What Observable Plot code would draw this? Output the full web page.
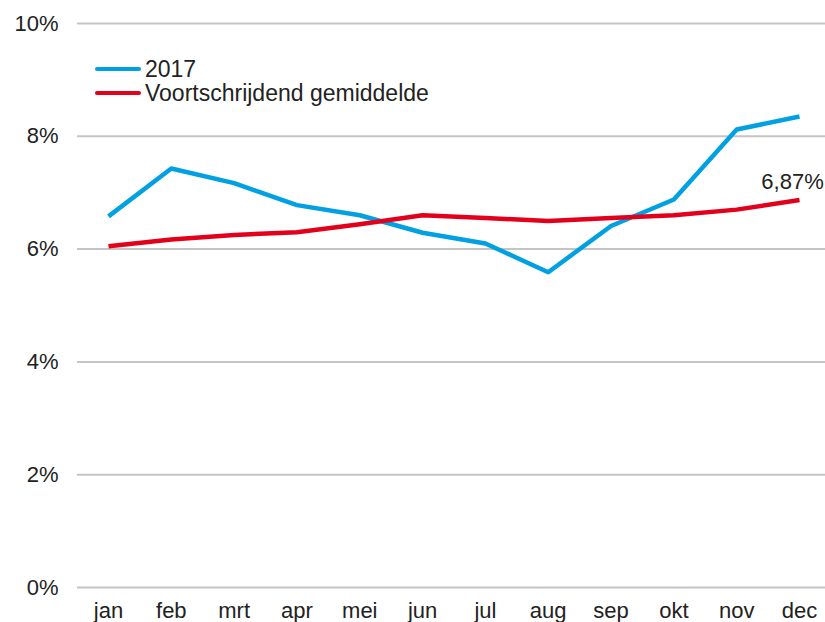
<!DOCTYPE html>
<html>
<head>
<meta charset="utf-8">
<script src="https://cdn.jsdelivr.net/npm/d3@7"></script>
<script src="https://cdn.jsdelivr.net/npm/@observablehq/plot@0.6"></script>
<style>
  html, body { margin: 0; padding: 0; background: #fff; }
  #wrap { position: relative; width: 825px; height: 622px; overflow: hidden; font-family: "Liberation Sans", Arial, sans-serif; }
  .leg { position: absolute; left: 95px; display: flex; align-items: center; font-size: 23px; line-height: 22px; height: 22px; color: #222; white-space: nowrap; }
  .sw { width: 46px; height: 4px; border-radius: 2px; margin-right: 4px; }
</style>
</head>
<body>
<div id="wrap"></div>
<script>
const months = ["jan","feb","mrt","apr","mei","jun","jul","aug","sep","okt","nov","dec"];
const values2017 = [6.58, 7.43, 7.17, 6.78, 6.60, 6.29, 6.10, 5.59, 6.41, 6.88, 8.12, 8.35];
const movingAvg = [6.05, 6.17, 6.25, 6.30, 6.44, 6.60, 6.55, 6.50, 6.55, 6.60, 6.70, 6.87];
const yTicks = [0, 2, 4, 6, 8, 10];
const seriesNames = ["2017", "Voortschrijdend gemiddelde"];
const colors = ["#00a0e2", "#e3001b"];

const rows = [];
months.forEach((m, i) => {
  rows.push({month: m, value: values2017[i], series: seriesNames[0]});
  rows.push({month: m, value: movingAvg[i], series: seriesNames[1]});
});
const last = [{month: months[months.length - 1], value: movingAvg[movingAvg.length - 1]}];

const chart = Plot.plot({
  width: 825,
  height: 622,
  marginLeft: 77,
  marginRight: 0,
  marginTop: 23,
  marginBottom: 35,
  style: {fontFamily: "'Liberation Sans', Arial, sans-serif", fontSize: "22px", color: "#222", background: "#fff"},
  x: {type: "point", domain: months, range: [108, 799], padding: 0, round: false, label: null},
  y: {domain: [0, 10], label: null},
  color: {domain: seriesNames, range: colors},
  marks: [
    Plot.ruleY(yTicks, {stroke: "#c4c4c4", strokeWidth: 2}),
    Plot.axisY(yTicks, {tickSize: 0, tickPadding: 19, tickFormat: d => d + "%", fontSize: 22, fill: "#222", label: null}),
    Plot.axisX(months, {tickSize: 0, tickPadding: 15, fontSize: 22, fill: "#222", label: null}),
    Plot.line(rows, {x: "month", y: "value", z: "series", stroke: "series", strokeWidth: 4.5, strokeLinejoin: "round", strokeLinecap: "butt"}),
    Plot.text(last, {x: "month", y: "value", text: d => d.value.toFixed(2).replace(".", ",") + "%", dy: -18, dx: -7, fontSize: 22, fill: "#222"})
  ]
});

const wrap = document.getElementById("wrap");
wrap.appendChild(chart);
seriesNames.forEach((name, i) => {
  const d = document.createElement("div");
  d.className = "leg";
  d.style.top = (58 + i * 24) + "px";
  d.innerHTML = `<span class="sw" style="background:${colors[i]}"></span><span>${name}</span>`;
  wrap.appendChild(d);
});
</script>
</body>
</html>
